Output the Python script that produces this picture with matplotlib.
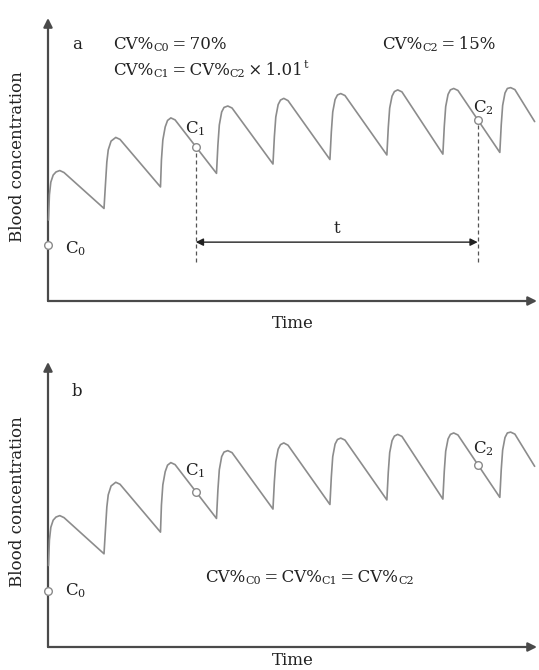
import matplotlib
matplotlib.use("Agg")
import matplotlib.pyplot as plt

# ---------------- data ----------------
# time (h, dose every ~12 h) and blood concentration (arbitrary units, axis = 0..100)
time_h = [0.1, 0.3, 0.6, 1.1, 1.7, 2.5, 3.4,
          11.9, 12.2, 12.5, 12.8, 13.4, 14.4, 15.3,
          23.9, 24.1, 24.4, 24.9, 25.4, 26.1, 27.0,
          35.8, 36.1, 36.4, 36.9, 37.4, 38.2, 39.1,
          47.8, 48.1, 48.4, 48.9, 49.4, 50.1, 51.0,
          59.9, 60.2, 60.5, 61.0, 61.5, 62.2, 63.1,
          72.0, 72.3, 72.6, 73.1, 73.6, 74.3, 75.2,
          83.9, 84.2, 84.5, 85.0, 85.5, 86.2, 87.1,
          96.0, 96.3, 96.6, 97.1, 97.6, 98.3, 99.2,
          103.4]
conc = [28.6, 37.5, 42.0, 44.5, 45.6, 46.1, 45.4,
        32.7, 41.0, 49.1, 53.4, 56.5, 57.8, 57.1,
        40.3, 49.8, 56.9, 61.5, 63.8, 64.7, 64.0,
        45.1, 55.1, 62.2, 66.8, 68.4, 68.9, 68.2,
        48.4, 58.1, 65.0, 69.4, 71.0, 71.6, 70.8,
        50.0, 59.7, 66.8, 71.2, 72.8, 73.3, 72.6,
        51.6, 61.3, 68.2, 72.4, 74.0, 74.6, 73.9,
        51.9, 61.7, 68.7, 73.0, 74.6, 75.1, 74.4,
        52.5, 62.2, 69.1, 73.5, 75.1, 75.4, 74.7,
        63.4]

point_names = ["C0", "C1", "C2"]
point_t = [0.0, 31.4, 91.3]
point_c = [19.8, 54.5, 63.8]

x_max = 103.9
y_max = 100

panel_labels = ["a", "b"]

FONT = "DejaVu Serif"
BIG = 12
SMALL = 8
TXT = "#222222"
AXC = "#4a4a4a"
CURVE = "#8c8c8c"
TS = "\u2009"  # thin space

fig = plt.figure(figsize=(5.39, 6.70), dpi=100)
W, H = 539, 670


def rich(ax, x, y, parts, transform=None):
    """Draw a run of text pieces (string, size, kind) next to each other."""
    kw = dict(family=FONT, color=TXT)
    s, size, kind = parts[0]
    prev = ax.text(x, y, s, fontsize=size, va="baseline", ha="left",
                   transform=transform if transform is not None else ax.transData, **kw)
    for s, size, kind in parts[1:]:
        if kind == "sup":
            prev = ax.annotate(s, xy=(1, 1), xycoords=prev, xytext=(0.5, 1.5),
                               textcoords="offset points", va="top", ha="left",
                               fontsize=size, **kw)
        else:
            prev = ax.annotate(s, xy=(1, 0), xycoords=prev, va="bottom", ha="left",
                               fontsize=size, **kw)
    return prev


def make_panel(bottom_px, top_px, label):
    left_px, right_px = 48, 537
    ax = fig.add_axes([left_px / W, (H - bottom_px) / H,
                       (right_px - left_px) / W, (bottom_px - top_px) / H])
    ax.set_xlim(0, x_max)
    ax.set_ylim(0, y_max)
    for sp in ax.spines.values():
        sp.set_visible(False)
    ax.set_xticks([])
    ax.set_yticks([])
    ax.patch.set_alpha(0)

    # axes with arrow heads
    ap = dict(arrowstyle="-|>", color=AXC, lw=1.6, shrinkA=0, shrinkB=0,
              mutation_scale=13)
    ax.annotate("", xy=(0, 1), xytext=(0, 0), xycoords="axes fraction",
                textcoords="axes fraction", arrowprops=ap, annotation_clip=False)
    ax.annotate("", xy=(1, 0), xytext=(0, 0), xycoords="axes fraction",
                textcoords="axes fraction", arrowprops=ap, annotation_clip=False)

    # curve
    ax.plot(time_h, conc, color=CURVE, lw=1.2, solid_joinstyle="round",
            solid_capstyle="round", clip_on=False, zorder=3)
    # sample points
    ax.plot(point_t, point_c, linestyle="none", marker="o", markersize=5.5,
            markerfacecolor="white", markeredgecolor="#8a8a8a",
            markeredgewidth=1.0, clip_on=False, zorder=5)

    ax.text(-30 / 489, 0.51, "Blood concentration", transform=ax.transAxes,
            rotation=90, ha="center", va="center", family=FONT, fontsize=BIG,
            color=TXT)
    return ax


# ---------------- panel a ----------------
axa = make_panel(301, 18, "a")
axa.text(5.1, 88.9, panel_labels[0], family=FONT, fontsize=BIG, color=TXT,
         va="baseline")
rich(axa, 13.8, 88.9, [("CV%", BIG, ""), ("C0", SMALL, ""),
                       (TS + "=" + TS + "70%", BIG, "")])
rich(axa, 13.8, 79.9, [("CV%", BIG, ""), ("C1", SMALL, ""),
                       (TS + "=" + TS + "CV%", BIG, ""), ("C2", SMALL, ""),
                       (TS + "×" + TS + "1.01", BIG, ""), ("t", SMALL, "sup")])
rich(axa, 70.9, 88.9, [("CV%", BIG, ""), ("C2", SMALL, ""),
                       (TS + "=" + TS + "15%", BIG, "")])

rich(axa, 3.6, 16.9, [("C", BIG, ""), ("0", SMALL, "")])
rich(axa, 29.1, 59.2, [("C", BIG, ""), ("1", SMALL, "")])
rich(axa, 90.3, 66.7, [("C", BIG, ""), ("2", SMALL, "")])

# dashed guides and the interval arrow
for t_, c_ in zip(point_t[1:], point_c[1:]):
    axa.plot([t_, t_], [13.8, c_ - 1.6], color="#555555", lw=0.9,
             linestyle=(0, (3.2, 2.4)), zorder=2)
axa.annotate("", xy=(point_t[2], 20.8), xytext=(point_t[1], 20.8),
             arrowprops=dict(arrowstyle="<|-|>", color="#222222", lw=1.0,
                             shrinkA=0, shrinkB=0, mutation_scale=11))
axa.text((point_t[1] + point_t[2]) / 2, 23.9, "t", family=FONT, fontsize=BIG,
         color=TXT, ha="center", va="baseline")
axa.text(0.5, -14 / 283, "Time", transform=axa.transAxes, ha="center", va="top",
         family=FONT, fontsize=BIG, color=TXT)

# ---------------- panel b ----------------
axb = make_panel(647, 362, "b")
axb.text(5.1, 88.0, panel_labels[1], family=FONT, fontsize=BIG, color=TXT,
         va="baseline")
rich(axb, 3.6, 18.2, [("C", BIG, ""), ("0", SMALL, "")])
rich(axb, 29.1, 60.4, [("C", BIG, ""), ("1", SMALL, "")])
rich(axb, 90.3, 68.0, [("C", BIG, ""), ("2", SMALL, "")])
rich(axb, 33.3, 22.9, [("CV%", BIG, ""), ("C0", SMALL, ""),
                       (TS + "=" + TS + "CV%", BIG, ""), ("C1", SMALL, ""),
                       (TS + "=" + TS + "CV%", BIG, ""), ("C2", SMALL, "")])
axb.text(0.5, -5 / 285, "Time", transform=axb.transAxes, ha="center", va="top",
         family=FONT, fontsize=BIG, color=TXT)

fig.savefig("out.png", dpi=100)
